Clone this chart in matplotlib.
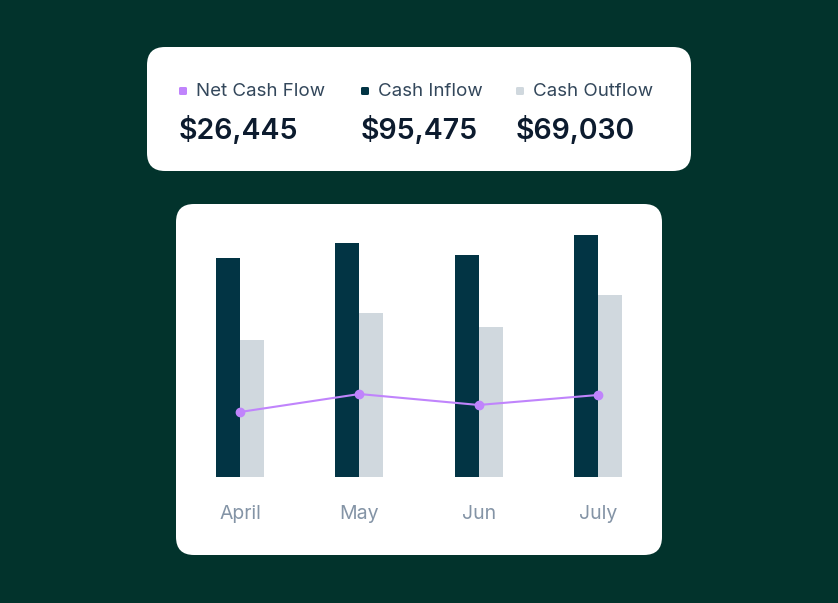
import matplotlib.pyplot as plt
from matplotlib.patches import FancyBboxPatch
import numpy as np

plt.rcParams['font.family'] = ['Inter', 'DejaVu Sans']

# data
months = ['April', 'May', 'Jun', 'July']
inflow = [22800, 24350, 23100, 25200]
outflow = [14250, 17060, 15600, 18930]
net_flow = [6760, 8630, 7490, 8530]

summary_labels = ['Net Cash Flow', 'Cash Inflow', 'Cash Outflow']
summary_values = ['$26,445', '$95,475', '$69,030']

BG = '#02332C'
C_IN = '#023444'
C_OUT = '#D0D8DE'
C_NET = '#C084FC'
TXT = '#33475B'
DARK = '#0C1B2E'
MONTH = '#8494A6'

W, H = 838, 603
fig = plt.figure(figsize=(W / 100, H / 100), dpi=100)
fig.patch.set_facecolor(BG)


def px(x, y):
    # pixel (top-left origin) -> figure fraction
    return x / W, 1 - y / H


def card(x0, y0, x1, y1, r=18):
    # transform=None -> display pixels (dpi 100)
    p = FancyBboxPatch((x0, H - y1), x1 - x0, y1 - y0,
                       boxstyle=f'round,pad=0,rounding_size={r}',
                       transform=None, facecolor='white', edgecolor='none',
                       zorder=-5)
    fig.patches.append(p)


card(147, 47, 691, 171)
card(176, 204, 662, 555)

# summary card
label_x = [179, 361, 516]
colors = [C_NET, C_IN, C_OUT]
for lx, lab, val, c in zip(label_x, summary_labels, summary_values, colors):
    fx, fy = px(lx, 95)
    fw, fh = 8 / W, 8 / H
    fig.patches.append(FancyBboxPatch((fx, fy), fw, fh,
                                      boxstyle='round,pad=0,rounding_size=0.002',
                                      transform=fig.transFigure,
                                      facecolor=c, edgecolor='none'))
    tx, ty = px(lx + 17, 92)
    fig.text(tx, ty, lab, fontsize=13.5, color=TXT, va='center', ha='left')
    vx, vy = px(lx, 130.5)
    fig.text(vx, vy, val, fontsize=20.5, color=DARK, va='center', ha='left',
             fontweight='semibold')

# chart
ax = fig.add_axes([176 / W, 1 - 555 / H, (662 - 176) / W, (555 - 204) / H])
ax.set_facecolor('none')
ax.set_zorder(2)
scale = 104
x = np.arange(len(months))
bw = 0.2
ax.bar(x - bw / 2, inflow, width=bw, color=C_IN, zorder=2)
ax.bar(x + bw / 2, outflow, width=bw, color=C_OUT, zorder=1)
ax.plot(x, net_flow, color=C_NET, lw=1.5, marker='o', ms=6, zorder=3)
for i, m in enumerate(months):
    ax.text(i, -37 * scale, m, ha='center', va='center', fontsize=14, color=MONTH)
ax.set_xlim(-64 / 119.33, 3 + 64 / 119.33)
ax.set_ylim(-(555 - 477) * scale, (477 - 204) * scale)
ax.axis('off')

fig.savefig('out.png', dpi=100, facecolor=BG)
